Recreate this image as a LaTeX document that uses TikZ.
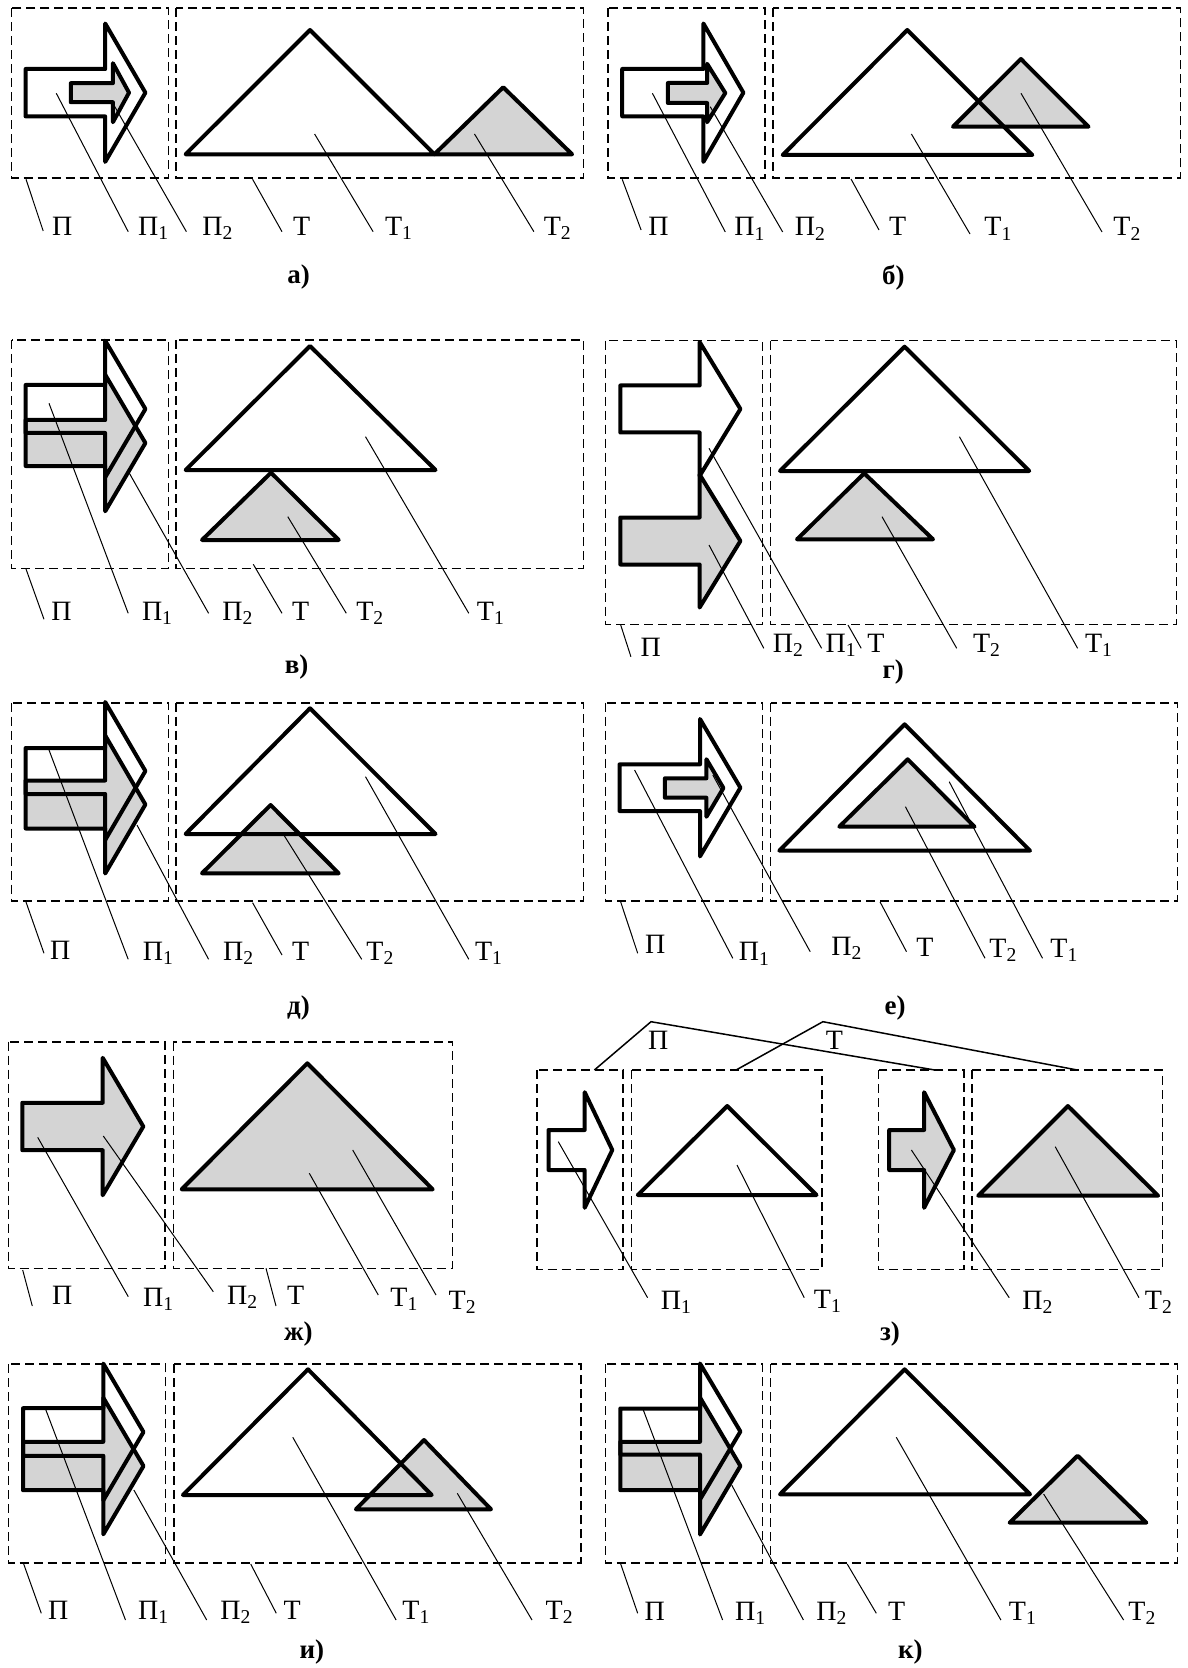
\documentclass[tikz,border=0pt]{standalone}
\usepackage{fontspec}
\setmainfont{Liberation Serif}
\usetikzlibrary{calc}
\definecolor{fillg}{gray}{0.83}
\tikzset{
 shp/.style={line width=2pt, line join=round},
 gsh/.style={shp, fill=fillg},
 dbox/.style={line width=0.8pt, dash pattern=on 4.5pt off 2.5pt},
 leader/.style={line width=0.5pt},
 brk/.style={line width=0.75pt},
 lbl/.style={anchor=base west, inner sep=0pt, font=\fontsize{14}{16}\selectfont},
 captxt/.style={inner sep=0pt, font=\fontsize{13.5}{15}\selectfont\bfseries},
}
% arrow: style, xl, xb, xt, cy, shaft half height, head half height
\newcommand\arrw[7]{\draw[#1] (#2,#5-#6) -- (#3,#5-#6) -- (#3,#5-#7) -- (#4,#5) -- (#3,#5+#7) -- (#3,#5+#6) -- (#2,#5+#6) -- cycle;}
\newcommand\trig[4]{\draw[#1] (#2) -- (#3) -- (#4) -- cycle;}
\newcommand\dbx[2]{\draw[dbox] (#1) rectangle (#2);}
% leader: name, start, end, text base-west, text
\newcommand\leadlab[5]{\coordinate (#1s) at (#2); \coordinate (#1e) at (#3); \node[lbl] (#1) at (#4) {#5}; \draw[leader] (#1s) -- (#1e);}
\newcommand\Pa[1]{П\textsubscript{#1}}
\newcommand\Ta[1]{Т\textsubscript{#1}}
\begin{document}
\begin{tikzpicture}[x=0.5pt,y=-0.5pt]
\fill[white] (0,0) rectangle (1187,1668);
\useasboundingbox (0,0) rectangle (1187,1668);

% ---------------- a
\dbx{11.5,8.3}{168.4,178.3}
\dbx{176,8.3}{583.6,178.3}
\arrw{shp}{25.6}{105.2}{145.4}{92.7}{23.7}{69.2}
\arrw{gsh}{70.8}{112.9}{129}{92.7}{9.5}{29.5}
\trig{shp}{185.6,154.3}{310,30}{434.4,154.3}
\trig{gsh}{434.4,154.3}{503.2,87.3}{572.1,154.3}
\leadlab{aP}{26,179.3}{43.2,231}{51.7,235.5}{П}
\leadlab{aP1}{56.3,93.3}{128.2,231.7}{137.8,235.5}{\Pa1}
\leadlab{aP2}{114.8,106.7}{186.4,231.7}{202,235.5}{\Pa2}
\leadlab{aT}{252.6,179.3}{282,231.7}{292.8,235.5}{Т}
\leadlab{aT1}{314.6,134}{373.1,231.7}{384.6,235.5}{\Ta1}
\leadlab{aT2}{474.5,134}{533.9,231.7}{543.4,235.5}{\Ta2}
\node[captxt] (capa) at (298.5,277.5) {а)};

% ---------------- b
\dbx{608.2,8.3}{764.9,178.3}
\dbx{773.2,8.3}{1180.3,178.3}
\arrw{shp}{622.2}{703.4}{743.4}{92.7}{23.7}{69.2}
\arrw{gsh}{667.9}{707.1}{725.3}{93}{10}{29.2}
\trig{gsh}{953,126.7}{1020.9,59}{1088.5,126.7}
\trig{shp}{782.7,155}{907.3,30}{1032.3,155}
\leadlab{bP}{622.2,179.3}{641.1,230}{647.9,236}{П}
\leadlab{bP1}{652.4,93.3}{725.3,232}{734,236}{\Pa1}
\leadlab{bP2}{710.2,106.7}{782.7,232}{794.4,236}{\Pa2}
\leadlab{bT}{851,179}{879,230}{888.8,236}{Т}
\leadlab{bT1}{911.4,134}{970,234}{984,236}{\Ta1}
\leadlab{bT2}{1021,93.3}{1102,232}{1113,236}{\Ta2}
\node[captxt] (capb) at (893.3,277.5) {б)};

% ---------------- v
\dbx{11.5,340}{168.4,568.3}
\dbx{176,340}{583.6,568.3}
\arrw{gsh}{25.6}{105.2}{145.4}{443}{23}{68.3}
\arrw{shp}{25.6}{105.2}{145.4}{409}{24}{68.3}
\trig{shp}{185.6,470}{310,346}{435.5,470}
\trig{gsh}{202,540}{271,472.7}{338.7,540}
\leadlab{vP}{26,569}{44,619.3}{50.9,620}{П}
\leadlab{vP1}{49,403.3}{128.2,613.3}{141.6,620}{\Pa1}
\leadlab{vP2}{129.4,473.3}{208.6,613.3}{222,620}{\Pa2}
\leadlab{vT}{253.3,564.3}{282,613.3}{291.6,620}{Т}
\leadlab{vT2}{287.8,516.7}{346.3,613.3}{355.9,620}{\Ta2}
\leadlab{vT1}{365.5,436.7}{468.8,613.3}{476.5,620}{\Ta1}
\node[captxt] (capv) at (296.6,667) {в)};

% ---------------- g
\dbx{605.6,340.7}{762.3,624.3}
\dbx{770.6,340.7}{1176.5,624.3}
\arrw{gsh}{620.3}{699.6}{740.4}{541}{23.5}{66.5}
\arrw{shp}{620.3}{699.6}{740.4}{409}{23.5}{67}
\trig{shp}{780,471}{904.6,346.7}{1029.2,471}
\trig{gsh}{797,539.3}{864.2,473.3}{933,539.3}
\leadlab{gP}{620.7,625}{630.9,656.7}{640.3,656}{П}
\leadlab{gP2}{709,545}{763.8,648.3}{772.5,652}{\Pa2}
\leadlab{gP1}{709,448.3}{821.6,648.3}{825.3,652}{\Pa1}
\leadlab{gT}{848,625}{861.2,648.3}{866.9,652}{Т}
\leadlab{gT2}{882,516.7}{956.7,648.3}{972.6,652}{\Ta2}
\leadlab{gT1}{959.4,436.7}{1077.6,648.3}{1084.7,652}{\Ta1}
\node[captxt] (capg) at (893.3,672) {г)};

% ---------------- d
\dbx{11.5,702.7}{168.4,901}
\dbx{176,702.7}{583.6,901}
\arrw{gsh}{25.6}{105.2}{145.4}{804.5}{24}{69}
\arrw{shp}{25.6}{105.2}{145.4}{771}{23}{69}
\trig{gsh}{202,873.3}{270.6,805}{338.7,873.3}
\trig{shp}{185.6,834}{310,708.3}{435.5,834}
\leadlab{dP}{26,902}{44,953.3}{49.8,959.3}{П}
\leadlab{dP1}{49,750}{128.2,959.3}{142.4,960}{\Pa1}
\leadlab{dP2}{137,825}{208.6,959.3}{222.7,960}{\Pa2}
\leadlab{dT}{252.6,902.7}{282,955}{291.6,960}{Т}
\leadlab{dT2}{283.2,834}{361.7,959.3}{366,960}{\Ta2}
\leadlab{dT1}{365.5,776.7}{468.8,959.3}{474.6,960}{\Ta1}
\node[captxt] (capd) at (298.5,1008.3) {д)};

% ---------------- e
\dbx{605.6,702.7}{762.3,901}
\dbx{770.6,702.7}{1177.3,901}
\arrw{shp}{619.5}{700}{740.4}{787.7}{23.3}{68.7}
\arrw{gsh}{664.9}{706.4}{723.4}{788}{9.7}{28.8}
\trig{shp}{779.3,850.7}{904.6,724.3}{1030,850.7}
\trig{gsh}{839.3,826.7}{907.7,759.3}{974.5,826.7}
\leadlab{eP}{620.7,902}{637.7,953.3}{644.8,953.3}{П}
\leadlab{eP1}{634.6,770}{732.8,958.3}{738.5,960.7}{\Pa1}
\leadlab{eP2}{712.8,775}{810.2,951.7}{831,955}{\Pa2}
\leadlab{eT}{880.1,902}{906.5,951.7}{916,956}{Т}
\leadlab{eT2}{905.4,806.7}{985,958.3}{989,957.3}{\Ta2}
\leadlab{eT1}{949.2,781.7}{1042.5,958.3}{1050,957.3}{\Ta1}
\node[captxt] (cape) at (895.2,1008.3) {е)};

% ---------------- zh
\dbx{8.3,1041.7}{165,1268.3}
\dbx{173.3,1041.7}{452.3,1268.3}
\arrw{gsh}{22.3}{102.7}{143.3}{1126.5}{23.7}{68.7}
\trig{gsh}{181.7,1189.3}{307.3,1063.3}{432.7,1189.3}
\leadlab{zhP}{22.7,1270}{32.3,1306}{51.7,1304}{П}
\leadlab{zhP1}{37.7,1137.3}{128.3,1296.7}{142.7,1306}{\Pa1}
\leadlab{zhP2}{103.3,1136}{213.3,1291.7}{226.7,1304}{\Pa2}
\leadlab{zhT}{266,1268.3}{276,1306}{286.7,1304}{Т}
\leadlab{zhT1}{309.3,1173.3}{378.3,1295}{390,1306}{\Ta1}
\leadlab{zhT2}{352.7,1150}{436,1295}{448.3,1309}{\Ta2}
\node[captxt] (capzh) at (298.3,1334) {ж)};

% ---------------- z
\dbx{537,1070}{623,1269.3}
\dbx{631.5,1070}{822,1269.3}
\dbx{878.6,1070}{963.7,1269.3}
\dbx{972.2,1070}{1162.4,1269.3}
\arrw{shp}{548.5}{584.7}{612.3}{1150}{20}{57.8}
\arrw{gsh}{889.2}{924.1}{953.9}{1150}{20}{57.8}
\trig{shp}{637.8,1195}{727.2,1106}{816.5,1195}
\trig{gsh}{978.2,1195.7}{1067.9,1106}{1158.1,1195.7}
\coordinate (zPa) at (594.4,1070);
\coordinate (zPpk) at (651,1021.7);
\coordinate (zPb) at (934.8,1070);
\coordinate (zTa) at (736.1,1070);
\coordinate (zTpk) at (822.9,1021.7);
\coordinate (zTb) at (1077.3,1070);
\draw[brk] (zPa) -- (zPpk) -- (zPb);
\draw[brk] (zTa) -- (zTpk) -- (zTb);
\node[lbl] (zP) at (647.6,1049.3) {П};
\node[lbl] (zT) at (825.4,1049.3) {Т};
\leadlab{zP1}{558.3,1141.7}{647.6,1297.7}{660.4,1309.3}{\Pa1}
\leadlab{zT1}{737,1165}{804.2,1297.7}{813.5,1308.3}{\Ta1}
\leadlab{zP2}{911.4,1150}{1009.2,1297.7}{1022,1309.3}{\Pa2}
\leadlab{zT2}{1055.2,1146.7}{1139,1297.7}{1144.5,1309.3}{\Ta2}
\node[captxt] (capz) at (890,1334) {з)};

% ---------------- i
\dbx{8.4,1364}{165.3,1562.7}
\dbx{174.1,1364}{581,1562.7}
\arrw{gsh}{23}{103.3}{143.5}{1466}{24.2}{68.3}
\arrw{shp}{23}{103.3}{143.5}{1432}{23.8}{68.4}
\trig{gsh}{355.9,1509.3}{424,1440}{491,1509.3}
\trig{shp}{182.9,1495}{308,1369.3}{431.7,1495}
\leadlab{iP}{23.7,1564}{41.3,1613.3}{47.8,1619.3}{П}
\leadlab{iP1}{45.9,1410}{125.5,1620}{137.8,1619.3}{\Pa1}
\leadlab{iP2}{133.9,1490}{206.7,1620}{220,1619.3}{\Pa2}
\leadlab{iT}{250.7,1564}{276.3,1613.3}{283.2,1619.3}{Т}
\leadlab{iT1}{292.8,1437.3}{396.1,1620}{402,1619.3}{\Ta1}
\leadlab{iT2}{457.3,1493.3}{532,1620}{545.3,1619.3}{\Ta2}
\node[captxt] (capi) at (311.9,1652) {и)};

% ---------------- k
\dbx{605.6,1364}{762.3,1562.7}
\dbx{770.6,1364}{1177.3,1562.7}
\arrw{gsh}{620.3}{700}{740.4}{1466}{24.2}{68.5}
\arrw{shp}{620.3}{700}{740.4}{1431.5}{23}{68}
\trig{shp}{780,1494.3}{904.6,1369.3}{1030,1494.3}
\trig{gsh}{1009.6,1522.7}{1077.6,1455.7}{1146.3,1522.7}
\leadlab{kP}{620.7,1564}{637.7,1613.3}{644.1,1620}{П}
\leadlab{kP1}{643.3,1410}{722.6,1620}{734.7,1620}{\Pa1}
\leadlab{kP2}{731.7,1485}{803.4,1620}{815.9,1620}{\Pa2}
\leadlab{kT}{847.2,1564}{876.3,1613.3}{887.6,1620}{Т}
\leadlab{kT1}{896.3,1437.3}{1000.9,1620}{1008.5,1620}{\Ta1}
\leadlab{kT2}{1043.6,1494}{1123.6,1620}{1128,1620}{\Ta2}
\node[captxt] (capk) at (910.3,1652) {к)};
\end{tikzpicture}
\end{document}
